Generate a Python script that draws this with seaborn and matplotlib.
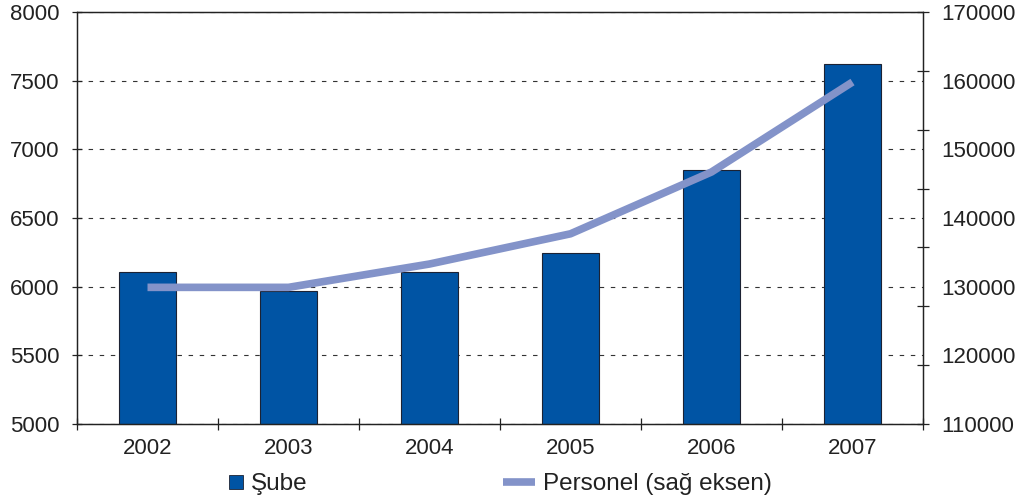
import matplotlib
matplotlib.use("Agg")
import matplotlib.pyplot as plt
from matplotlib.lines import Line2D
import seaborn as sns
import pandas as pd
import numpy as np

sns.set_theme(style="white")
plt.rcParams["font.family"] = ["Liberation Sans", "DejaVu Sans"]

years = ["2002", "2003", "2004", "2005", "2006", "2007"]
sube = [6106, 5966, 6106, 6247, 6849, 7618]
personel = [129900, 129900, 133300, 137700, 146700, 159800]

BAR = "#0054A4"
LINE = "#8393C9"
INK = "#222222"

df = pd.DataFrame({"Yil": years, "Sube": sube})

fig, ax = plt.subplots(figsize=(10.21, 5.04), dpi=100)
fig.subplots_adjust(left=77 / 1021, right=923 / 1021, top=1 - 12 / 504, bottom=1 - 424 / 504)

sns.barplot(data=df, x="Yil", y="Sube", color=BAR, saturation=1, width=0.4,
            edgecolor="#1c2233", linewidth=0.8, ax=ax)
ax.set_xlim(-0.5, 5.5)
ax.set_ylim(5000, 8000)
ax.set_yticks(np.arange(5000, 8001, 500))
ax.set_yticklabels([str(v) for v in range(5000, 8001, 500)])
ax.set_xticks(np.arange(-0.5, 6, 1), labels=[""] * 7)
ax.set_xticks(np.arange(6), labels=years, minor=True)
ax.set_xlabel("")
ax.set_ylabel("")
ax.yaxis.grid(True, linestyle=(0, (4, 6)), color="#333333", linewidth=0.8)
ax.set_axisbelow(True)
ax.tick_params(axis="y", which="major", direction="inout", length=7, width=0.9,
               color=INK, labelcolor=INK, labelsize=16, pad=9, left=True)
ax.tick_params(axis="x", which="major", direction="inout", length=8, width=0.9,
               color=INK, bottom=True)
ax.tick_params(axis="x", which="minor", length=0, labelsize=16, labelcolor=INK, pad=10)
for s in ax.spines.values():
    s.set_color(INK)
    s.set_linewidth(0.9)

ax2 = ax.twinx()
sns.lineplot(x=np.arange(6), y=personel, ax=ax2, color=LINE, linewidth=5.5,
             solid_capstyle="butt")
ax2.set_ylim(110000, 170000)
ax2.yaxis.remove_overlapping_locs = False
ax2.set_yticks(np.linspace(110000, 170000, 8), labels=[""] * 8)
ax2.set_yticks(np.arange(110000, 170001, 10000),
               labels=[str(v) for v in range(110000, 170001, 10000)], minor=True)
ax2.set_ylabel("")
ax2.tick_params(axis="y", which="major", direction="inout", length=8, width=0.9,
                color=INK, right=True)
ax2.tick_params(axis="y", which="minor", length=0, labelsize=16, labelcolor=INK, pad=13)
for s in ax2.spines.values():
    s.set_color(INK)
    s.set_linewidth(0.9)

leg_y = 1 - 484 / 504
sq = Line2D([], [], linestyle="none", marker="s", markersize=10, markerfacecolor=BAR,
            markeredgecolor="#1c2233", markeredgewidth=0.6)
ln = Line2D([], [], color=LINE, linewidth=5.5, solid_capstyle="butt")
leg1 = fig.legend([sq], ["Şube"], loc="center left", bbox_to_anchor=(229 / 1021, leg_y),
                  frameon=False, fontsize=17.5, handlelength=0.6, handletextpad=0.3,
                  borderpad=0, borderaxespad=0, labelcolor=INK)
leg2 = fig.legend([ln], ["Personel (sağ eksen)"], loc="center left",
                  bbox_to_anchor=(503 / 1021, leg_y), frameon=False, fontsize=17.5,
                  handlelength=1.3, handletextpad=0.35, borderpad=0, borderaxespad=0,
                  labelcolor=INK)

fig.savefig("out.png", dpi=100)
